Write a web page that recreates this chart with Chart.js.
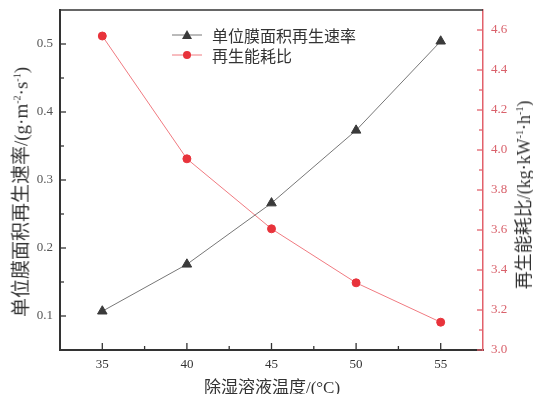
<!DOCTYPE html>
<html>
<head>
<meta charset="utf-8">
<script src="https://cdn.jsdelivr.net/npm/chart.js@4.4.1/dist/chart.umd.min.js"></script>
<style>
  body { margin: 0; background: #fff; }
  #wrap { position: relative; width: 533px; height: 394px; overflow: hidden; }
  .lbl { position: absolute; font-family: "Liberation Serif", "Noto Sans CJK SC", serif; color: #333; font-size: 17px; white-space: nowrap; }
  .lbl sup { font-size: 10px; }
  .rot { transform-origin: center center; transform: translate(-50%, -50%) rotate(-90deg); }
  #legend { position: absolute; left: 172px; top: 25px; font-family: "Noto Sans CJK SC", sans-serif; font-size: 16px; color: #333; line-height: 20px; }
  #legend div { display: flex; align-items: center; height: 20px; }
  #legend svg { margin-right: 10px; }
</style>
</head>
<body>
<div id="wrap">
  <canvas id="c" width="533" height="394"></canvas>
  <div id="legend"></div>
  <div class="lbl rot" style="left:19px; top:192px; font-size:19px;">单位膜面积再生速率/(g·m<sup>-2</sup>·s<sup>-1</sup>)</div>
  <div class="lbl rot" style="left:522px; top:195px; font-size:18px;">再生能耗比/(kg·kW<sup>-1</sup>·h<sup>-1</sup>)</div>
  <div class="lbl" style="left:272px; top:385px; transform: translate(-50%, -50%);">除湿溶液温度/(°C)</div>
</div>
<script>
// data
const temps = [35, 40, 45, 50, 55];
const rateValues = [0.107, 0.176, 0.266, 0.373, 0.504];
const ratioValues = [4.57, 3.956, 3.606, 3.336, 3.139];
const seriesNames = ['单位膜面积再生速率', '再生能耗比'];

const xTicks = [35, 40, 45, 50, 55];
const leftTicks = [0.1, 0.2, 0.3, 0.4, 0.5];
const rightTicks = [3.0, 3.2, 3.4, 3.6, 3.8, 4.0, 4.2, 4.4, 4.6];

const dark = '#333333';
const red = '#e8333b';
const redAxis = '#e2616b';

// inward major/minor ticks + top frame line
const ticksPlugin = {
  id: 'inTicks',
  afterDraw(chart) {
    const ctx = chart.ctx;
    const a = chart.chartArea;
    ctx.save();
    ctx.lineWidth = 1.5;
    ctx.strokeStyle = dark;
    ctx.beginPath();
    ctx.moveTo(a.left, a.top);
    ctx.lineTo(a.right, a.top);
    ctx.stroke();

    const draw = (scale, vals, len, side, color) => {
      ctx.strokeStyle = color;
      ctx.lineWidth = 1.3;
      vals.forEach(v => {
        const p = scale.getPixelForValue(v);
        ctx.beginPath();
        if (side === 'bottom') { ctx.moveTo(p, a.bottom); ctx.lineTo(p, a.bottom - len); }
        if (side === 'left') { ctx.moveTo(a.left, p); ctx.lineTo(a.left + len, p); }
        if (side === 'right') { ctx.moveTo(a.right, p); ctx.lineTo(a.right - len, p); }
        ctx.stroke();
      });
    };
    const mids = arr => arr.slice(0, -1).map((v, i) => (v + arr[i + 1]) / 2);
    const s = chart.scales;
    draw(s.x, xTicks, 7, 'bottom', dark);
    draw(s.x, mids(xTicks), 4, 'bottom', dark);
    draw(s.y, leftTicks, 6, 'left', dark);
    draw(s.y, mids(leftTicks), 4, 'left', dark);
    draw(s.y1, rightTicks, 6, 'right', redAxis);
    draw(s.y1, mids(rightTicks), 4, 'right', redAxis);
    ctx.restore();
  }
};

const tickFont = { family: 'Liberation Serif', size: 13 };

new Chart(document.getElementById('c'), {
  type: 'line',
  data: {
    datasets: [
      {
        label: seriesNames[0],
        data: temps.map((t, i) => ({ x: t, y: rateValues[i] })),
        yAxisID: 'y',
        borderColor: '#777',
        borderWidth: 1,
        pointStyle: 'triangle',
        pointRadius: 5.5,
        pointBackgroundColor: '#3a3a3a',
        pointBorderColor: '#3a3a3a',
        tension: 0
      },
      {
        label: seriesNames[1],
        data: temps.map((t, i) => ({ x: t, y: ratioValues[i] })),
        yAxisID: 'y1',
        borderColor: '#f07a80',
        borderWidth: 1,
        pointStyle: 'circle',
        pointRadius: 4,
        pointBackgroundColor: red,
        pointBorderColor: red,
        tension: 0
      }
    ]
  },
  options: {
    responsive: false,
    animation: false,
    devicePixelRatio: 1,
    layout: { padding: { top: 10, left: 0, right: 0, bottom: 0 } },
    plugins: { legend: { display: false }, tooltip: { enabled: false } },
    scales: {
      x: {
        type: 'linear',
        min: 32.5,
        max: 57.5,
        afterBuildTicks: sc => { sc.ticks = xTicks.map(v => ({ value: v })); },
        afterFit: sc => { sc.height = 44; },
        grid: { drawOnChartArea: false, drawTicks: false },
        border: { color: dark, width: 2 },
        ticks: { font: tickFont, color: dark, padding: 7 }
      },
      y: {
        position: 'left',
        min: 0.05,
        max: 0.55,
        afterBuildTicks: sc => { sc.ticks = leftTicks.map(v => ({ value: v })); },
        afterFit: sc => { sc.width = 60; sc.paddingTop = 0; },
        grid: { drawOnChartArea: false, drawTicks: false },
        border: { color: dark, width: 2 },
        ticks: { font: tickFont, color: '#555', padding: 7, callback: v => v.toFixed(1) }
      },
      y1: {
        position: 'right',
        min: 3.0,
        max: 4.7,
        afterBuildTicks: sc => { sc.ticks = rightTicks.map(v => ({ value: v })); },
        afterFit: sc => { sc.width = 50; sc.paddingTop = 0; },
        grid: { drawOnChartArea: false, drawTicks: false },
        border: { color: redAxis, width: 1.5 },
        ticks: { font: tickFont, color: '#d9616b', padding: 8, callback: v => v.toFixed(1) }
      }
    }
  },
  plugins: [ticksPlugin]
});

// legend overlay
const legend = document.getElementById('legend');
const marks = [
  '<svg width="30" height="12"><line x1="0" y1="6" x2="30" y2="6" stroke="#777" stroke-width="1"/><polygon points="15,1 20,10 10,10" fill="#3a3a3a"/></svg>',
  '<svg width="30" height="12"><line x1="0" y1="6" x2="30" y2="6" stroke="#f07a80" stroke-width="1"/><circle cx="15" cy="6" r="4" fill="' + red + '"/></svg>'
];
seriesNames.forEach((n, i) => {
  const row = document.createElement('div');
  row.innerHTML = marks[i] + '<span>' + n + '</span>';
  legend.appendChild(row);
});
</script>
</body>
</html>
